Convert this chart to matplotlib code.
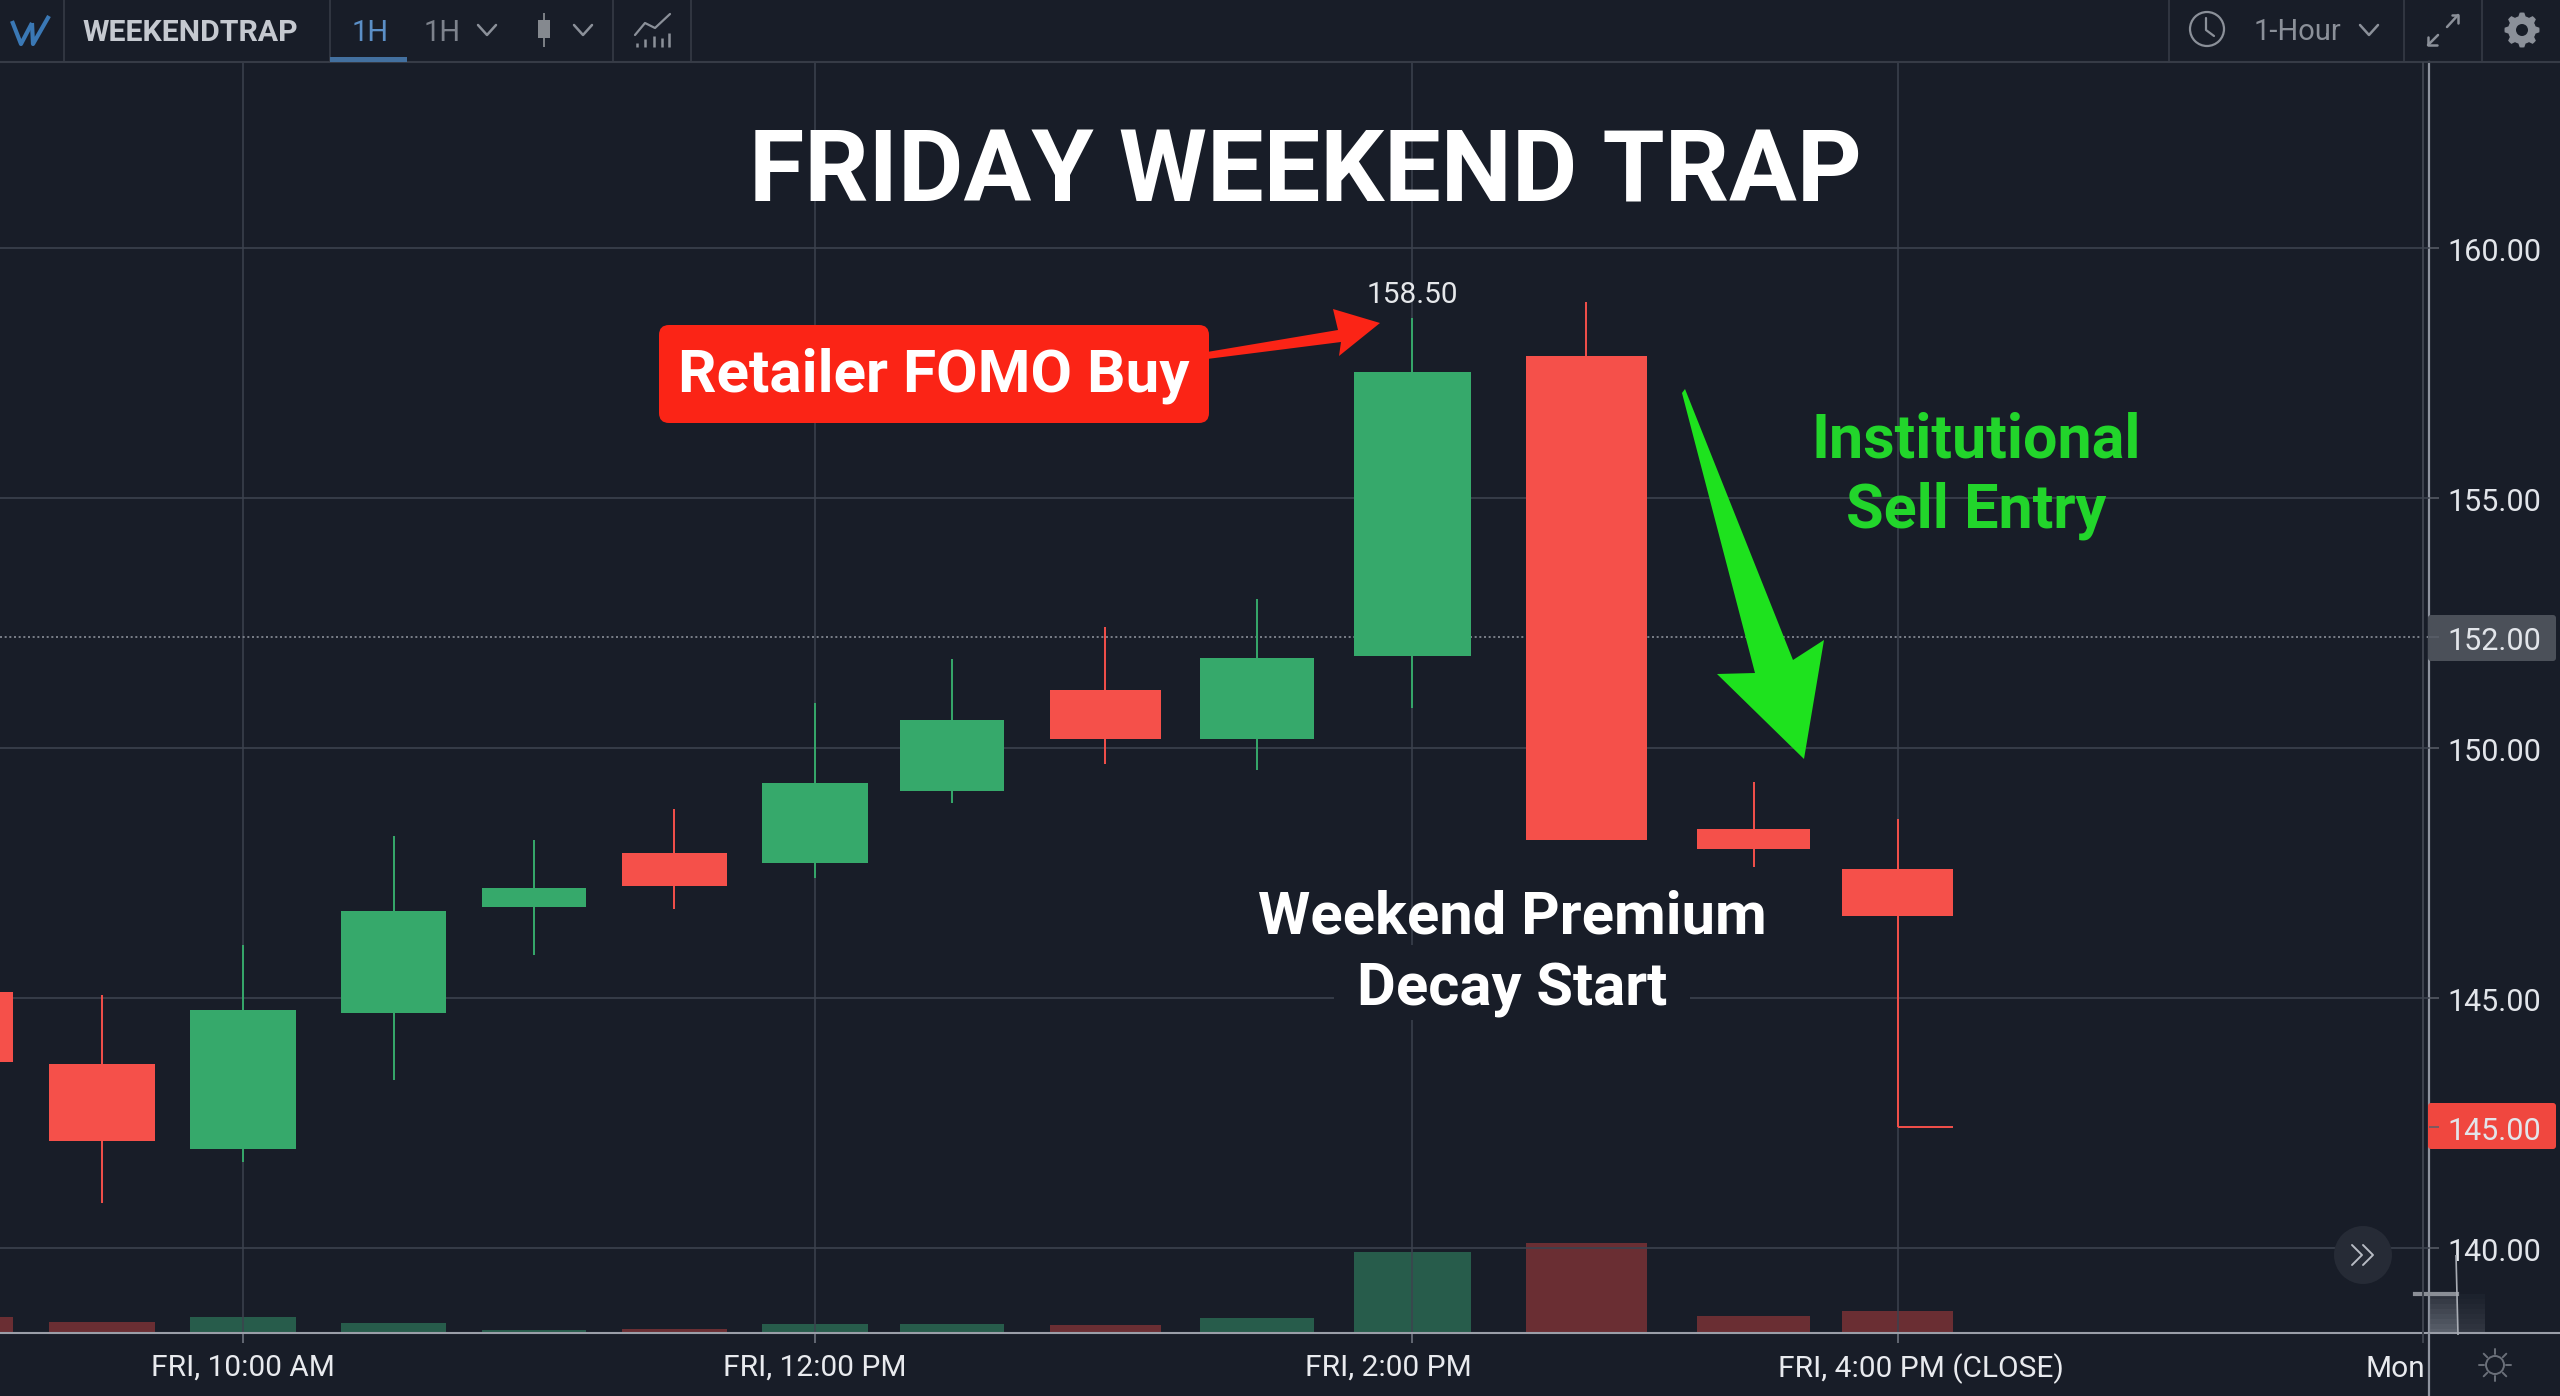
#!/usr/bin/env python
import numpy as np
import matplotlib
matplotlib.use('Agg')
import matplotlib.pyplot as plt
from matplotlib.patches import Circle, FancyBboxPatch, Polygon, Rectangle
from matplotlib.transforms import ScaledTranslation

W, H = 2560, 1396
BG = '#181d28'
GRID = '#3c424e'
UP = '#36a96b'
DOWN = '#f5504a'
UP_VOL = '#275c4b'
DOWN_VOL = '#6a2e33'
ICON = '#8b9099'

plt.rcParams['font.family'] = ['Roboto', 'DejaVu Sans']

# candles, x is hours on the friday
candle_x = [9.01, 9.505, 10.0, 10.526, 11.017, 11.509, 12.0, 12.48, 13.017, 13.549, 14.091, 14.70, 15.286, 15.79]
opens = [145.12, 143.69, 141.99, 144.70, 146.82, 147.90, 147.70, 149.14, 151.16, 150.18, 151.84, 157.85, 148.38, 147.58]
highs = [145.12, 145.06, 146.07, 148.25, 148.16, 148.78, 150.90, 151.78, 152.43, 152.99, 158.60, 158.92, 149.33, 148.58]
lows = [143.72, 140.91, 141.73, 143.36, 145.87, 146.79, 147.41, 148.91, 149.69, 149.56, 150.80, 148.16, 147.63, 142.42]
closes = [143.72, 142.15, 144.76, 146.75, 147.21, 147.24, 149.30, 150.57, 150.18, 151.81, 157.52, 148.16, 147.99, 146.64]
body_w = [0.37, 0.37, 0.37, 0.366, 0.366, 0.366, 0.37, 0.366, 0.39, 0.40, 0.41, 0.423, 0.394, 0.389]
volumes = [10, 7, 10, 6, 2, 2.5, 5.7, 5.3, 4.7, 9.2, 49.6, 55, 10.5, 13.5]

price_ticks = [140, 142.42, 145, 150, 152.22, 155, 160]
price_labels = ['140.00', '145.00', '145.00', '150.00', '152.00', '155.00', '160.00']
grid_prices = [140, 145, 150, 155, 160]
last_level = 152.22

time_ticks = [10, 12, 14.091, 15.79]
time_labels = ['FRI, 10:00 AM', 'FRI, 12:00 PM', 'FRI, 2:00 PM', 'FRI, 4:00 PM (CLOSE)']
label_shift_px = [0, 0, -24, 23]

fig = plt.figure(figsize=(W / 100, H / 100), dpi=100, facecolor=BG)
left, right, top, bottom = 0, 2429, 62, 1333
rect = [left / W, 1 - bottom / H, (right - left) / W, (bottom - top) / H]

# volume sits under the price axes
vol = fig.add_axes(rect, zorder=1)
vol.set_facecolor(BG)
vol.set_xlim(9.1484, 17.65)
vol.set_ylim(0, 778)
vol.axis('off')
vol.bar(candle_x, volumes, width=body_w,
        color=[UP_VOL if c >= o else DOWN_VOL for o, c in zip(opens, closes)])

ax = fig.add_axes(rect, zorder=2)
ax.patch.set_visible(False)
ax.set_xlim(9.1484, 17.65)
ax.set_ylim(138.3, 163.72)
for name in ['top', 'left', 'bottom']:
    ax.spines[name].set_visible(False)
ax.spines['right'].set_color('#8e939e')
ax.spines['right'].set_linewidth(1.6)
ax.spines['right'].set_zorder(0.5)

for p in grid_prices:
    ax.axhline(p, color=GRID, lw=1.2, zorder=1)
for t in time_ticks:
    ax.axvline(t, color=GRID, lw=1.1, zorder=1)
ax.axhline(last_level, color='#8a8f98', lw=1.2, ls=(0, (1.2, 1.6)), zorder=1)

for x, o, h, l, c, w in zip(candle_x, opens, highs, lows, closes, body_w):
    col = UP if c >= o else DOWN
    ax.vlines(x, l, h, color=col, lw=1.4, zorder=3)
    ax.bar(x, abs(c - o), bottom=min(o, c), width=w, color=col, zorder=4)
# close tick on the long tail of the last candle
ax.hlines(lows[-1], candle_x[-1], candle_x[-1] + body_w[-1] / 2, color=DOWN, lw=1.4, zorder=3)

ax.yaxis.tick_right()
ax.set_yticks(price_ticks, labels=price_labels)
ax.tick_params(axis='y', length=7.2, width=1.1, color='#5a5f69', pad=6,
               labelsize=22, labelcolor='#e2e5ea')
for lab in ax.get_yticklabels():
    lab.set_transform(lab.get_transform() + ScaledTranslation(0, -1.5 / 100, fig.dpi_scale_trans))
ax.set_xticks(time_ticks, labels=time_labels)
ax.tick_params(axis='x', length=7.2, width=1.1, color='#777c86', pad=7.6,
               labelsize=21.5, labelcolor='#e8eaee')
for lab, s in zip(ax.get_xticklabels(), label_shift_px):
    lab.set_transform(lab.get_transform() + ScaledTranslation(s / 100, 0, fig.dpi_scale_trans))

# everything else is placed in figure pixels
ui = fig.add_axes([0, 0, 1, 1], zorder=5)
ui.set_xlim(0, W)
ui.set_ylim(H, 0)
ui.axis('off')

for y0, y1, col in [(615, 661, '#4b5059'), (1103, 1149, '#f0473f')]:
    ax.add_patch(FancyBboxPatch((2431, y0 + 3), 122, y1 - y0 - 6, boxstyle='round,pad=3',
                                fc=col, ec='none', transform=ui.transData,
                                clip_on=False, zorder=1))


def seg(xs, ys, col=ICON, lw=1.5, z=6, **kw):
    ui.plot(xs, ys, color=col, lw=lw, zorder=z, solid_capstyle=kw.pop('cap', 'round'), **kw)


def chevron(x, y, col=ICON):
    seg([x - 9, x, x + 9], [y - 5, y + 5, y - 5], col=col, lw=1.8)


# top bar and frame lines
seg([0, W], [62, 62], col='#363b46', lw=1.5, cap='butt')
seg([0, W], [1333, 1333], col='#9a9ea8', lw=1.5, cap='butt')
seg([2429, 2429], [1333, H], col='#8e939e', lw=1.6, cap='butt')
seg([2423, 2423], [62, 1343], col='#3f444f', lw=1.4, cap='butt')
for x in [64, 330, 613, 691, 2169, 2404, 2482]:
    seg([x, x], [0, 62], col='#363b46', lw=1.2, cap='butt')
ui.add_patch(Rectangle((330, 57), 77, 5, fc='#43709f', ec='none', zorder=6))

seg([12, 21, 32], [21, 44, 23], col='#3a78b5', lw=3, cap='butt')
seg([32, 33, 49], [23, 44, 16], col='#3a78b5', lw=3, cap='butt')
ui.text(190, 41, 'WEEKENDTRAP', color='#c5c9d0', fontsize=21.8, fontweight='bold', ha='center', va='baseline')
ui.text(370, 41, '1H', color='#5b8fc7', fontsize=21, ha='center', va='baseline')
ui.text(442, 41, '1H', color='#7d828c', fontsize=21, ha='center', va='baseline')
chevron(487, 30)
seg([544, 544], [13, 47], col='#85898f', lw=1.3, cap='butt')
ui.add_patch(Rectangle((538, 20), 12, 18, fc='#85898f', ec='none', zorder=6))
chevron(583, 30)
seg([635, 645, 655, 670], [35, 23, 28, 14], lw=1.6)
for x, y in zip([637, 645, 654, 662, 669], [43, 39, 36, 38, 33]):
    seg([x, x], [47, y], lw=1.8, cap='butt')

ui.add_patch(Circle((2207, 29), 17, fc='none', ec=ICON, lw=1.6, zorder=6))
seg([2206, 2206, 2214], [18, 30, 36], lw=1.6)
ui.text(2297, 40, '1-Hour', color=ICON, fontsize=21, ha='center', va='baseline')
chevron(2369, 30)
seg([2447, 2458], [27, 15], lw=1.8)
seg([2452, 2458, 2458], [15, 15, 23], lw=1.8)
seg([2438, 2428], [35, 45], lw=1.8)
seg([2428, 2428, 2437], [37, 45, 45], lw=1.8)
# gear
ang = np.linspace(0, 2 * np.pi, 49)
rad = 14 + 3.5 * (np.cos(8 * ang) > 0)
ui.add_patch(Polygon(np.c_[2522 + rad * np.cos(ang), 30 + rad * np.sin(ang)], fc=ICON, ec='none', zorder=6))
ui.add_patch(Circle((2522, 30), 6, fc=BG, ec='none', zorder=7))

# title and callouts
ui.text(1305, 201, 'FRIDAY WEEKEND TRAP', color='white', fontsize=72.5, fontweight='bold',
        ha='center', va='baseline')
ui.text(1412, 295, '158.50', color='#e5e7ea', fontsize=21.5, ha='center', va='center')

ui.add_patch(FancyBboxPatch((669, 335), 530, 78, boxstyle='round,pad=10', fc='#fb2416', ec='none', zorder=6))
ui.add_patch(Polygon([(1207, 352), (1338, 330), (1333, 309), (1380, 323), (1339, 356), (1341, 342), (1207, 359)],
                     fc='#fb2416', ec='none', zorder=6))
ui.text(934, 392, 'Retailer FOMO Buy', color='white', fontsize=43.4, fontweight='bold',
        ha='center', va='baseline', zorder=7)

ui.add_patch(Polygon([(1685, 389), (1793, 660), (1824, 640), (1804, 759), (1717, 674), (1755, 673), (1682, 393)],
                     fc='#1ee21e', ec='none', zorder=6))
ui.text(1976, 457, 'Institutional', color='#22d52b', fontsize=44, fontweight='bold',
        ha='center', va='baseline', zorder=7)
ui.text(1976, 527, 'Sell Entry', color='#22d52b', fontsize=44, fontweight='bold',
        ha='center', va='baseline', zorder=7)

ui.add_patch(Rectangle((1334, 945), 356, 75, fc=BG, ec='none', zorder=1))
ui.text(1512, 934, 'Weekend Premium', color='white', fontsize=43, fontweight='bold',
        ha='center', va='baseline', zorder=7)
ui.text(1512, 1005, 'Decay Start', color='white', fontsize=43, fontweight='bold',
        ha='center', va='baseline', zorder=7)

# bottom right corner bits
ui.text(2395, 1377, 'Mon', color='#e8eaee', fontsize=21.5, ha='center', va='baseline')
ui.add_patch(Circle((2363, 1255), 29, fc='#262b36', ec='none', zorder=6))
for dx in [-5, 6]:
    seg([2357 + dx, 2367 + dx, 2357 + dx], [1245, 1255, 1265], col='#b8bcc4', lw=1.4, z=7)
ui.add_patch(Circle((2495, 1365), 9, fc='none', ec='#6a6f79', lw=1.4, zorder=6))
for a in np.arange(0, 2 * np.pi, np.pi / 4):
    seg([2495 + 11 * np.cos(a), 2495 + 16 * np.cos(a)], [1365 + 11 * np.sin(a), 1365 + 16 * np.sin(a)],
        col='#6a6f79', lw=1.4)
for i in range(8):
    y = 1294 + i * 5
    ui.add_patch(Rectangle((2429, y), 28, 5, fc='#7a808b', alpha=0.25 + 0.06 * i, ec='none', zorder=3))
    ui.add_patch(Rectangle((2457, y), 28, 5, fc='#7a808b', alpha=0.05 + 0.03 * i, ec='none', zorder=3))
seg([2456, 2458], [1255, 1335], col='#a8acb4', lw=1.2, cap='butt')
ui.plot([2415, 2457], [1294, 1294], color='#8a8e96', lw=3, zorder=4)

fig.savefig('out.png', dpi=100, facecolor=BG)
